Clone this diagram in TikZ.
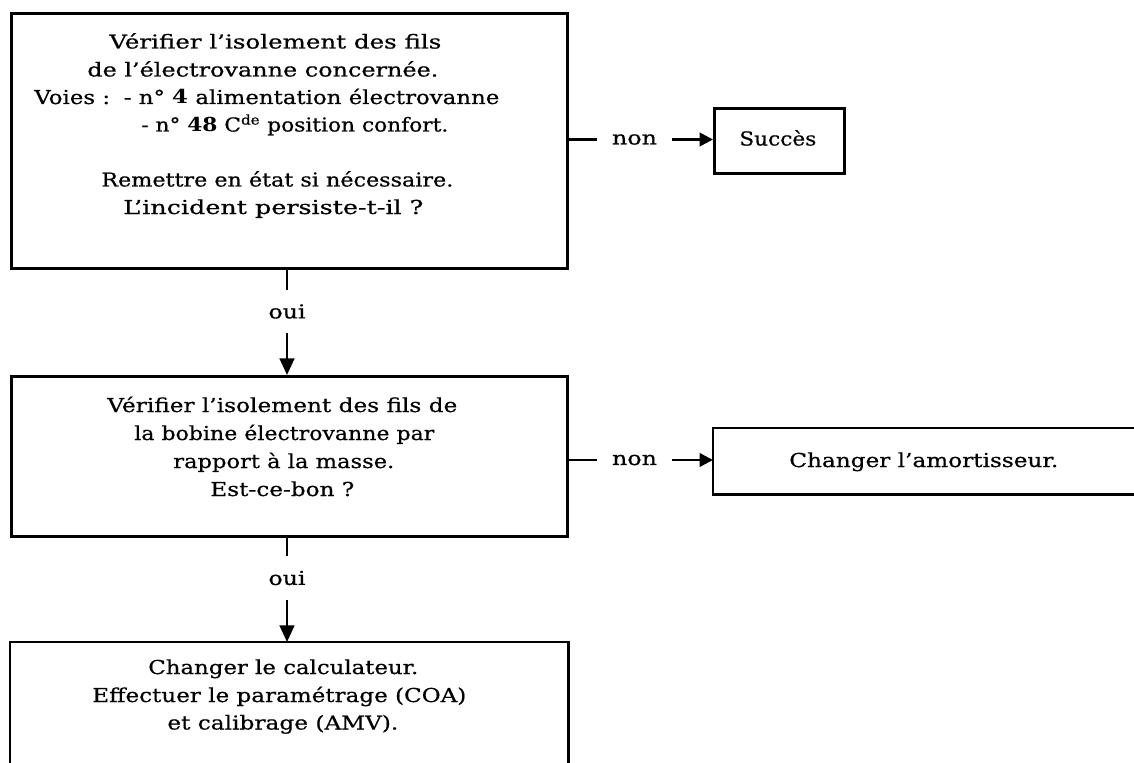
\documentclass[tikz,border=0pt]{standalone}
\usepackage{graphicx}
\usepackage{fontspec}
\setmainfont{DejaVu Serif}[FakeBold=0.5, BoldFeatures={FakeBold=0}]
\usetikzlibrary{arrows.meta}
% set a line of text, stretched horizontally to a given width (in px units)
\newsavebox\fitbox
\newcommand\fitline[2]{%
  \sbox\fitbox{#2}%
  \pgfmathsetmacro\fitratio{0.75*#1/\the\wd\fitbox}%
  \scalebox{\fitratio}[1]{\usebox\fitbox}}
\begin{document}
\begin{tikzpicture}[x=0.75pt, y=-0.75pt, line width=2pt,
  frame/.style={draw, rectangle, inner sep=0pt, anchor=north west},
  ghost/.style={rectangle, inner sep=0pt, anchor=north west},
  txt/.style={anchor=base west, inner sep=0pt, font=\fontsize{14.4}{17}\selectfont},
  lbl/.style={inner sep=0pt, font=\fontsize{14.4}{17}\selectfont},
  flowv/.style={-{Triangle[length=12.5pt, width=11pt]}},
  flowh/.style={-{Triangle[length=10pt, width=10pt]}},
]
\useasboundingbox (0,0) rectangle (1134,763);

% boxes
\node[frame, minimum width=417pt, minimum height=191.25pt] (b1) at (10,12) {};
\node[frame, minimum width=97.5pt, minimum height=48.75pt] (succes) at (713,107) {};
\node[frame, minimum width=417pt, minimum height=120pt] (b2) at (10,375) {};
\node[ghost, minimum width=315.75pt, minimum height=48pt] (amo) at (713,428) {};
\node[ghost, minimum width=417pt, minimum height=97.5pt] (b3) at (10,642) {};
\draw (amo.north east) -- (amo.north west) -- (amo.south west) -- (amo.south east);
\draw (b3.south west) -- (b3.north west) -- (b3.north east) -- (b3.south east);

% texts of the first box
\node[txt] (t11) at (108,48.5) {\fitline{332}{Vérifier l’isolement des fils}};
\node[txt] (t12) at (86,76.5) {\fitline{351}{de l’électrovanne concernée.}};
\node[txt] (t13) at (33,104) {\fitline{465}{Voies :\hspace{0.6em}- n° \textbf{4} alimentation électrovanne}};
\node[txt] (t14) at (140,131.5) {\fitline{307}{- n° \textbf{48} C\textsuperscript{de} position confort.}};
\node[txt] (t15) at (100,186.5) {\fitline{352}{Remettre en état si nécessaire.}};
\node[txt] (t16) at (122,214) {\fitline{300}{L’incident persiste-t-il ?}};

% texts of the second box
\node[txt] (t21) at (106,412) {\fitline{350}{Vérifier l’isolement des fils de}};
\node[txt] (t22) at (133,440) {\fitline{300}{la bobine électrovanne par}};
\node[txt] (t23) at (172,468) {\fitline{221}{rapport à la masse.}};
\node[txt] (t24) at (209,496) {\fitline{144}{Est-ce-bon ?}};

% texts of the last box
\node[txt] (t31) at (147,674) {\fitline{270}{Changer le calculateur.}};
\node[txt] (t32) at (91,702) {\fitline{374}{Effectuer le paramétrage (COA)}};
\node[txt] (t33) at (166,729.5) {\fitline{231}{et calibrage (AMV).}};

\node[txt] (ts) at (738,145.5) {\fitline{77}{Succès}};
\node[txt] (ta) at (788,467) {\fitline{269}{Changer l’amortisseur.}};

% branch labels
\node[lbl, minimum height=30.75pt] (oui1) at (287,311.5) {\fitline{37}{oui}};
\node[lbl, minimum height=31.5pt] (oui2) at (287,578) {\fitline{37}{oui}};
\node[lbl, minimum width=54pt] (non1) at (634.5,139.5) {\fitline{45}{non}};
\node[lbl, minimum width=54pt] (non2) at (634.5,460) {\fitline{45}{non}};

% connectors
\draw (oui1.north |- b1.south) -- (oui1.north);
\draw[flowv] (oui1.south) -- (oui1.south |- b2.north);
\draw (oui2.north |- b2.south) -- (oui2.north);
\draw[flowv] (oui2.south) -- (oui2.south |- b3.north);
\draw (non1.west -| b1.east) -- (non1.west);
\draw[flowh] (non1.east) -- (non1.east -| succes.west);
\draw (non2.west -| b2.east) -- (non2.west);
\draw[flowh] (non2.east) -- (non2.east -| amo.west);
\end{tikzpicture}
\end{document}
